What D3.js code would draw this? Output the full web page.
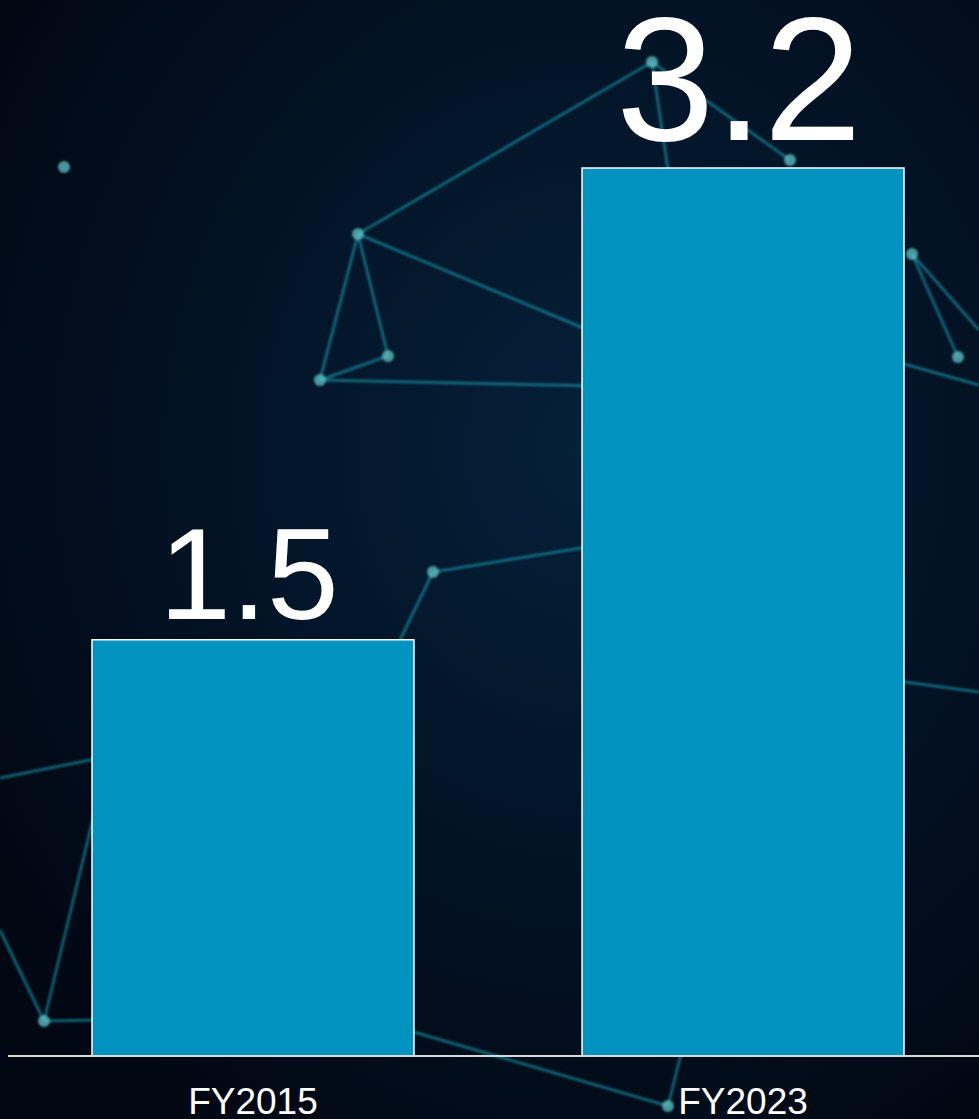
<!DOCTYPE html>
<html>
<head>
<meta charset="utf-8">
<script src="https://cdn.jsdelivr.net/npm/d3@7"></script>
<style>
  html, body { margin: 0; padding: 0; background: #020a1a; }
  svg { display: block; }
</style>
</head>
<body>
<svg id="chart" width="979" height="1119"></svg>
<script>
// chart data
var categories = ["FY2015", "FY2023"];
var values = [1.5, 3.2];
var valueLabels = ["1.5", "3.2"];

// background decoration (network motif, not data)
var bgNodes = [
  [64, 167], [358, 234], [320, 380], [388, 356], [433, 572], [44, 1021],
  [912, 254], [958, 357], [668, 1106], [652, 62], [790, 160]
];
var bgLinks = [
  [[358, 234], [652, 62]], [[358, 234], [320, 380]], [[358, 234], [388, 356]],
  [[320, 380], [388, 356]], [[320, 380], [600, 386]], [[358, 234], [600, 335]],
  [[433, 572], [600, 545]], [[44, 1021], [100, 1020]], [[44, 1021], [0, 930]],
  [[44, 1021], [100, 790]], [[0, 778], [100, 758]], [[400, 1028], [668, 1106]],
  [[890, 680], [979, 692]], [[912, 254], [979, 330]], [[912, 254], [958, 357]],
  [[890, 360], [979, 385]], [[668, 1106], [682, 1050]], [[652, 62], [790, 160]],
  [[652, 62], [668, 170]], [[433, 572], [400, 640]]
];

var width = 979, height = 1119;
var svg = d3.select("#chart");

// background glow + network
var defs = svg.append("defs");
var grad = defs.append("radialGradient").attr("id", "bgglow")
  .attr("cx", "60%").attr("cy", "40%").attr("r", "70%");
grad.append("stop").attr("offset", "0%").attr("stop-color", "#05203a");
grad.append("stop").attr("offset", "100%").attr("stop-color", "#010814");
defs.append("filter").attr("id", "soft")
  .append("feGaussianBlur").attr("stdDeviation", 1.2);

svg.append("rect").attr("width", width).attr("height", height).attr("fill", "url(#bgglow)");

var bg = svg.append("g").attr("filter", "url(#soft)");
bg.selectAll("line").data(bgLinks).enter().append("line")
  .attr("x1", function(d) { return d[0][0]; })
  .attr("y1", function(d) { return d[0][1]; })
  .attr("x2", function(d) { return d[1][0]; })
  .attr("y2", function(d) { return d[1][1]; })
  .style("stroke", "#1a9aa8")
  .style("stroke-opacity", 0.6)
  .style("stroke-width", 3);
bg.selectAll("circle").data(bgNodes).enter().append("circle")
  .attr("cx", function(d) { return d[0]; })
  .attr("cy", function(d) { return d[1]; })
  .attr("r", 6)
  .style("fill", "#5fc4c4")
  .style("fill-opacity", 0.75);

// scales
var baseY = 1056;
var x = d3.scaleBand().domain(categories).range([92, 904]).paddingInner(0.343).paddingOuter(0);
var y = d3.scaleLinear().domain([0, 3.2]).range([baseY, 168]);

// bars
svg.selectAll(".bar").data(values).enter().append("rect")
  .attr("class", "bar")
  .attr("x", function(d, i) { return x(categories[i]); })
  .attr("y", function(d) { return y(d); })
  .attr("width", x.bandwidth())
  .attr("height", function(d) { return baseY - y(d); })
  .style("fill", "#0093bf")
  .style("stroke", "#ffffff")
  .style("stroke-width", 1.5);

// value labels
var labelSize = [129, 177];
svg.selectAll(".vlabel").data(values).enter().append("text")
  .attr("class", "vlabel")
  .attr("x", function(d, i) { return x(categories[i]) + x.bandwidth() / 2 - 4; })
  .attr("y", function(d, i) { return y(d) - labelSize[i] * 0.16; })
  .attr("text-anchor", "middle")
  .style("font-family", "'Liberation Sans', Arial, sans-serif")
  .style("font-size", function(d, i) { return labelSize[i] + "px"; })
  .style("fill", "#ffffff")
  .text(function(d, i) { return valueLabels[i]; });

// x axis
var xAxis = svg.append("g")
  .attr("transform", "translate(0," + baseY + ")")
  .call(d3.axisBottom(x).tickSize(0).tickPadding(0));
xAxis.select(".domain").remove();
xAxis.append("line")
  .attr("x1", 8).attr("x2", width)
  .style("stroke", "#d9d9d9")
  .style("stroke-width", 2);
xAxis.selectAll(".tick text")
  .attr("dy", null)
  .attr("y", 58)
  .style("font-family", "'Liberation Sans', Arial, sans-serif")
  .style("font-size", "37px")
  .style("fill", "#ffffff");
</script>
</body>
</html>
